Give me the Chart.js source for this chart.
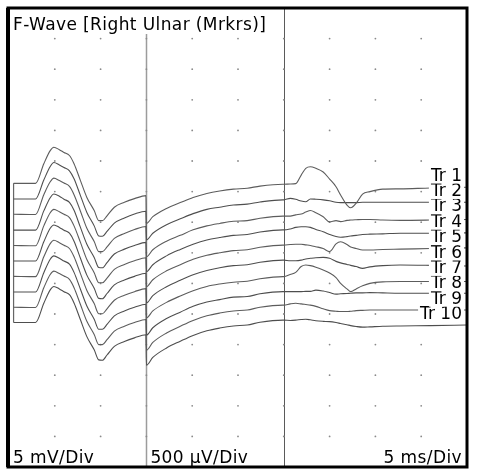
<!DOCTYPE html>
<html>
<head>
<meta charset="utf-8">
<script src="https://cdn.jsdelivr.net/npm/chart.js@4/dist/chart.umd.min.js"></script>
<style>
html, body { margin: 0; padding: 0; background: #fff; }
</style>
</head>
<body>
<canvas id="fwave" width="480" height="471"></canvas>
<script>
// sweep time (ms) for the three sections of the screen
var timeP1 = [0.5, 2.9, 3.8, 4.5, 4.9, 5.5, 6.0, 6.6, 7.1, 7.8, 8.5, 9.3, 9.8, 10.2, 10.7, 11.5, 12.6, 13.7, 14.95];
var timeP2 = [15.0, 15.7, 17.2, 18.7, 20.1, 21.6, 23.0, 24.5, 26.0, 27.4, 29.9];
var timeP3 = [30.0, 30.7, 31.3, 31.9, 32.4, 32.9, 33.5, 34.3, 35.0, 35.7, 36.2, 36.9, 37.3, 37.9, 38.6, 39.4, 40.8, 42.7, 46.0, 49.9];

// trace levels, in tenths of a division down from the top
var tr1 = [57.3,57.3,50.9,46.6,45.5,46.3,47.2,48.2,50.9,56.4,61.9,66.2,69.5,69.5,67.9,65.1,63.5,62.3,61.3,
           70.4,68.2,65.5,63.6,61.9,60.6,59.8,59.2,58.9,58.2,57.6,
           57.6,57.5,57.4,54.6,52.4,51.9,52.4,53.6,55.9,58.4,61.1,64.4,65.3,63.8,60.8,60.0,59.2,59.1,58.8,58.6];
var tr2 = [62.4,62.4,56.2,51.8,50.5,51.3,52.1,53.2,55.8,61.3,66.8,71.2,74.5,74.6,73.0,70.3,68.6,67.3,66.4,
           75.8,73.6,70.8,68.9,67.2,65.8,65.1,64.4,64.1,63.4,62.7,
           62.7,62.2,62.5,63.1,63.3,62.4,62.5,62.7,63.0,63.5,63.6,63.6,63.6,63.6,63.5,63.5,63.5,63.5,63.5,63.5];
var tr3 = [67.4,67.5,61.0,56.8,55.6,56.4,57.2,58.3,61.0,66.4,72.0,76.3,79.6,79.6,78.1,75.3,73.7,72.4,71.4,
           81.3,79.0,76.2,74.3,72.5,71.2,70.4,69.7,69.5,68.7,68.0,
           68.0,68.0,67.6,67.3,66.7,66.2,66.9,68.2,69.9,69.5,69.8,69.4,69.3,69.2,69.1,69.1,69.3,69.4,69.3,69.1];
var tr4 = [72.6,72.6,66.3,62.0,60.8,61.5,62.5,63.5,66.1,71.7,77.2,81.5,84.8,84.9,83.2,80.4,78.8,77.6,76.6,
           86.2,83.9,81.0,78.9,77.2,75.8,75.0,74.3,74.0,73.2,72.5,
           72.5,72.2,71.7,71.5,71.5,71.7,72.4,73.1,74.0,74.7,74.9,74.7,74.5,74.3,74.0,73.9,73.8,73.6,73.6,73.5];
var tr5 = [77.6,77.7,71.2,66.9,65.8,66.6,67.4,68.5,71.2,76.6,82.2,86.5,89.8,89.8,88.3,85.4,83.8,82.6,81.6,
           91.1,88.8,85.9,83.9,82.1,80.8,80.0,79.3,79.0,78.2,77.5,
           77.5,77.3,77.2,77.2,77.4,77.6,78.0,78.6,79.6,77.1,76.4,77.3,78.1,78.6,79.1,79.1,78.9,78.8,78.6,78.4];
var tr6 = [82.7,82.7,76.4,72.0,70.9,71.7,72.6,73.6,76.2,81.8,87.3,91.6,94.9,95.0,93.3,90.5,88.9,87.7,86.7,
           96.4,94.0,91.1,89.0,87.2,85.8,84.9,84.2,83.9,83.1,82.4,
           82.4,82.6,82.6,82.4,82.0,81.8,81.6,81.5,81.8,82.8,83.3,83.8,84.1,84.5,85.1,84.6,84.2,84.0,84.1,84.3];
var tr7 = [87.7,87.8,81.3,77.0,75.9,76.7,77.5,78.6,81.3,86.8,92.3,96.6,99.9,99.9,98.3,95.5,93.9,92.7,91.7,
           101.3,99.0,96.2,94.1,92.4,91.0,90.2,89.6,89.3,88.5,87.8,
           87.8,87.1,86.4,84.5,84.0,84.2,84.7,85.6,86.6,88.1,90.0,91.8,92.7,91.8,90.8,90.0,89.5,89.4,89.4,89.4];
var tr8 = [92.8,92.8,86.5,82.1,81.0,81.8,82.7,83.7,86.4,91.9,97.4,101.7,105.0,105.0,103.4,100.6,99.0,97.8,96.8,
           106.9,104.5,101.5,99.4,97.5,96.1,95.3,94.5,94.3,93.4,92.7,
           92.7,92.7,92.7,92.7,92.6,92.6,92.2,92.5,93.0,93.5,93.4,93.3,93.2,93.1,93.1,93.0,93.1,93.2,93.2,93.2];
var tr9 = [97.8,97.9,91.4,87.1,86.0,86.8,87.6,88.7,91.4,96.9,102.4,106.7,110.0,110.0,108.4,105.6,104.0,102.8,101.8,
           111.8,109.3,106.2,104.0,102.1,100.6,99.7,99.0,98.7,97.8,97.1,
           97.1,96.7,96.5,96.7,96.9,97.1,97.5,98.3,98.9,99.1,99.2,99.2,99.1,98.9,98.8,98.7,98.7,98.7,98.7,98.7];
var tr10 = [102.8,102.8,96.5,92.1,91.0,91.8,92.7,93.7,96.4,101.9,107.4,111.7,115.0,115.1,113.4,110.6,109.0,107.8,106.8,
            116.7,114.2,111.1,108.9,107.0,105.5,104.6,103.9,103.6,102.7,102.0,
            102.0,102.1,102.0,101.8,101.7,101.9,102.2,102.4,102.5,102.8,103.1,103.5,103.8,104.1,104.3,104.2,104.0,103.9,103.8,103.6];

var traceNames = ['Tr 1','Tr 2','Tr 3','Tr 4','Tr 5','Tr 6','Tr 7','Tr 8','Tr 9','Tr 10'];
var xDivs = [0,5,10,15,20,25,30,35,40,45,50];
var yDivs = [0,10,20,30,40,50,60,70,80,90,100,110,120,130,140,150];
var panelEdges = [15, 30];
var titleText = 'F-Wave [Right Ulnar (Mrkrs)]';
var gainTexts = ['5 mV/Div', '500 µV/Div'];
var sweepText = '5 ms/Div';

var FONT = '17px "DejaVu Sans", Verdana, sans-serif';
var time = timeP1.concat(timeP2, timeP3);
var traces = [tr1, tr2, tr3, tr4, tr5, tr6, tr7, tr8, tr9, tr10];

var dots = [];
xDivs.forEach(function (x) {
    yDivs.forEach(function (y) { dots.push({x: x, y: y}); });
});

var datasets = traces.map(function (tr, i) {
    return {
        label: traceNames[i],
        data: time.map(function (t, j) { return {x: t, y: tr[j]}; }),
        borderColor: i % 2 ? '#4e4e4e' : '#5c5c5c',
        borderWidth: 1.1,
        pointRadius: 0,
        cubicInterpolationMode: 'monotone',
        fill: false,
        order: 1
    };
});
// stimulus marker joining the trace starts
datasets.push({
    data: [{x: timeP1[0], y: tr1[0]}, {x: timeP1[0], y: tr10[0]}],
    borderColor: '#666', borderWidth: 1.2, pointRadius: 0, order: 2
});
datasets.push({
    type: 'scatter',
    data: dots,
    pointRadius: 0.9,
    pointBackgroundColor: '#8a8a8a',
    pointBorderWidth: 0,
    order: 10
});

function setFont(c, spacing) {
    c.font = FONT;
    c.letterSpacing = spacing;
    c.fillStyle = '#000';
    c.textBaseline = 'alphabetic';
}

var screenPlugin = {
    id: 'screen',
    beforeDatasetsDraw: function (chart) {
        var c = chart.ctx, a = chart.chartArea, xs = chart.scales.x;
        c.save();
        panelEdges.forEach(function (t, i) {
            var px = Math.round(xs.getPixelForValue(t)) + 0.5;
            c.strokeStyle = i == 0 ? '#9c9c9c' : '#5a5a5a';
            c.lineWidth = i == 0 ? 1.5 : 1;
            c.beginPath();
            c.moveTo(px, a.top);
            c.lineTo(px, a.bottom);
            c.stroke();
        });
        c.restore();
    },
    afterDatasetsDraw: function (chart) {
        var c = chart.ctx, a = chart.chartArea, ys = chart.scales.y;
        c.save();
        setFont(c, '0px');
        c.textAlign = 'right';
        // trace names, last one first so each box trims the one below
        for (var k = traceNames.length - 1; k >= 0; k--) {
            var y = ys.getPixelForValue(56.4 + k * 5.03);
            var w = c.measureText(traceNames[k]).width;
            c.fillStyle = '#fff';
            c.fillRect(a.right - 5 - w - 2, y - 13, w + 4, 16);
            c.fillStyle = '#000';
            c.fillText(traceNames[k], a.right - 5, y);
        }
        c.restore();
    },
    afterDraw: function (chart) {
        var c = chart.ctx, a = chart.chartArea, xs = chart.scales.x;
        c.save();
        c.fillStyle = '#fff';
        c.fillRect(a.left + 1, a.top + 1, 271, 25);
        setFont(c, '0.4px');
        c.textAlign = 'left';
        c.fillText(titleText, a.left + 4, a.top + 22);
        c.fillText(gainTexts[0], a.left + 4, a.bottom - 4);
        c.fillText(gainTexts[1], xs.getPixelForValue(panelEdges[0]) + 4, a.bottom - 4);
        c.textAlign = 'right';
        c.fillText(sweepText, a.right - 5, a.bottom - 4);
        c.strokeStyle = '#000';
        c.lineWidth = 3;
        c.strokeRect(a.left - 1, a.top, a.right - a.left + 1, a.bottom - a.top);
        c.lineWidth = 4;
        c.beginPath();
        c.moveTo(a.left - 1, a.top);
        c.lineTo(a.left - 1, a.bottom);
        c.stroke();
        c.restore();
    }
};

new Chart(document.getElementById('fwave'), {
    type: 'line',
    data: {datasets: datasets},
    options: {
        responsive: false,
        animation: false,
        devicePixelRatio: 1,
        layout: {padding: {left: 9, top: 8, right: 13, bottom: 4}},
        plugins: {legend: {display: false}, tooltip: {enabled: false}},
        scales: {
            x: {type: 'linear', min: 0, max: 50, display: false},
            y: {type: 'linear', min: 0, max: 150, reverse: true, display: false}
        }
    },
    plugins: [screenPlugin]
});
</script>
</body>
</html>
